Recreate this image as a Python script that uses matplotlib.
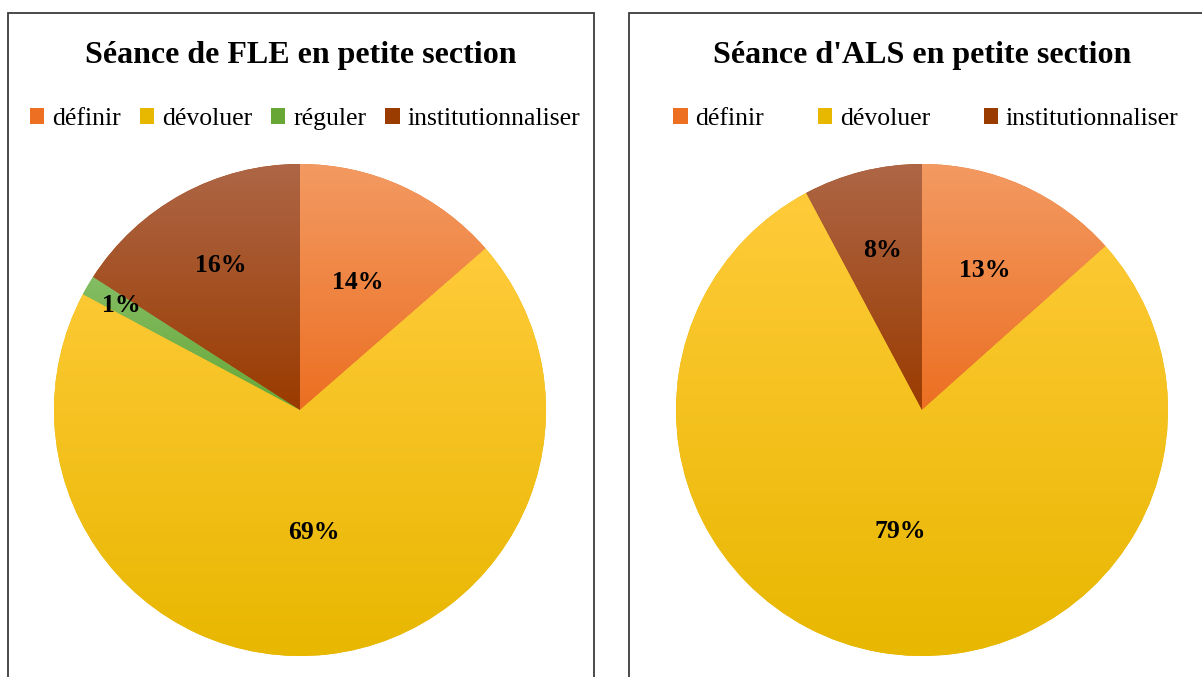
import numpy as np
import matplotlib.pyplot as plt
from matplotlib.patches import Rectangle, Patch
from matplotlib.colors import LinearSegmentedColormap

plt.rcParams['font.family'] = ['Liberation Serif', 'DejaVu Serif']

# data
titles = ["Séance de FLE en petite section", "Séance d'ALS en petite section"]
fle_labels = ['définir', 'dévoluer', 'réguler', 'institutionnaliser']
fle_values = [13.6, 69.2, 1.3, 15.9]
als_labels = ['définir', 'dévoluer', 'institutionnaliser']
als_values = [13.4, 78.8, 7.8]

# (top, bottom) gradient colours, Excel style
colors = {
    'définir': ('#F39A62', '#EC6F22'),
    'dévoluer': ('#FFCB3A', '#E8B700'),
    'réguler': ('#84BD64', '#66A736'),
    'institutionnaliser': ('#AE6646', '#9A3B00'),
}

# radial position of the % labels (fraction of radius)
fle_dists = [0.57, 0.5, 0.84, 0.67]
als_dists = [0.62, 0.5, 0.67]

W, H = 1202, 677
fig = plt.figure(figsize=(W / 100, H / 100), dpi=100)


def fx(x):
    return x / W


def fy(y):
    return 1 - y / H


def draw_pie(ax, values, labels, dists):
    wedges, _ = ax.pie(values, startangle=90, counterclock=False, radius=1,
                       colors=[colors[l][1] for l in labels],
                       wedgeprops=dict(linewidth=0))
    grad = np.linspace(0, 1, 256).reshape(-1, 1)
    for w, lab in zip(wedges, labels):
        top, bot = colors[lab]
        cmap = LinearSegmentedColormap.from_list('g', [bot, top])
        ext = w.get_path().get_extents()
        im = ax.imshow(grad, extent=(ext.x0, ext.x1, ext.y0, ext.y1),
                       origin='lower', cmap=cmap, aspect='auto', zorder=2)
        im.set_clip_path(w)
    for w, v, d in zip(wedges, values, dists):
        th = np.deg2rad((w.theta1 + w.theta2) / 2)
        ax.text(d * np.cos(th), d * np.sin(th), f'{round(v)}%', ha='center',
                va='center', fontsize=18.5, fontweight='bold', zorder=5)
    ax.set_xlim(-1, 1)
    ax.set_ylim(-1, 1)
    ax.set_aspect('equal')
    ax.axis('off')


# panel frames
for x0, x1 in [(8, 594), (629, 1215)]:
    fig.patches.append(Rectangle((fx(x0), -0.1), fx(x1) - fx(x0), fy(13) + 0.1,
                                 transform=fig.transFigure, fill=False,
                                 edgecolor='#3c3c3c', linewidth=1.3))

ax1 = fig.add_axes([fx(54), 21 / H, 492 / W, 492 / H])
draw_pie(ax1, fle_values, fle_labels, fle_dists)
ax2 = fig.add_axes([fx(676), 21 / H, 492 / W, 492 / H])
draw_pie(ax2, als_values, als_labels, als_dists)

fig.text(fx(301), fy(56), titles[0], ha='center', va='center',
         fontsize=23, fontweight='bold')
fig.text(fx(922), fy(56), titles[1], ha='center', va='center',
         fontsize=23, fontweight='bold')

for labels, cx, colsp in [(fle_labels, 305, 0.75), (als_labels, 926, 2.1)]:
    handles = [Patch(facecolor=colors[l][1], edgecolor='none') for l in labels]
    fig.legend(handles, labels, loc='center', bbox_to_anchor=(fx(cx), fy(119)),
               ncol=len(labels), frameon=False, fontsize=18.5, handlelength=0.55,
               handleheight=0.55, handletextpad=0.3, columnspacing=colsp,
               borderpad=0)

fig.savefig('out.png', dpi=100)
